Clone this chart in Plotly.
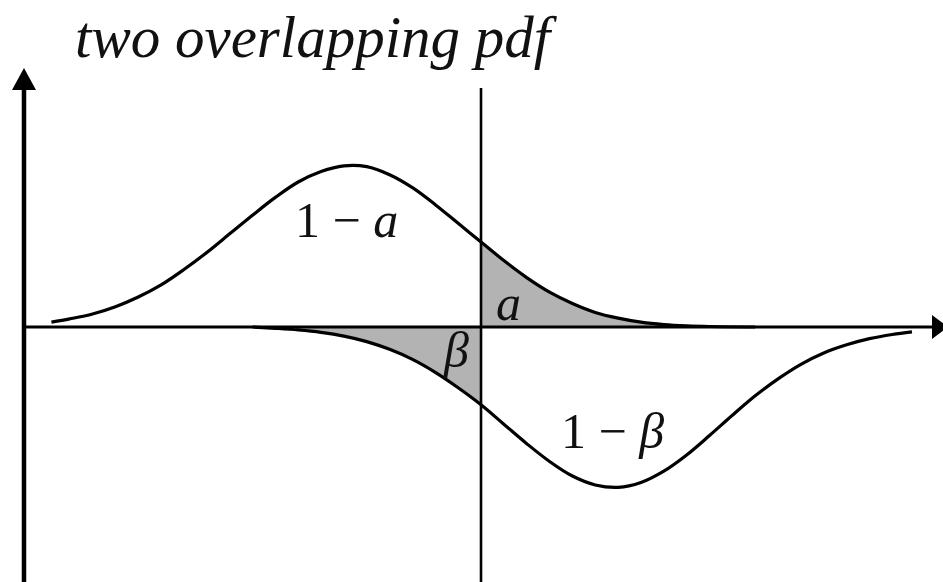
import plotly.graph_objects as go

# Decision threshold on the score axis
threshold = 10.0

# Upper density (H0), read at regular score steps
upper_x = [0.6, 1.0, 1.5, 2.0, 2.5, 3.0, 3.5, 4.0, 4.5, 5.0, 5.5, 6.0, 6.5, 7.0,
           7.5, 8.0, 8.5, 9.0, 9.5, 10.0, 10.5, 11.0, 11.5, 12.0, 12.5, 13.0,
           13.5, 14.0, 14.5, 15.0, 16.0]
upper_y = [0.03, 0.05, 0.08, 0.125, 0.185, 0.26, 0.355, 0.46, 0.575, 0.69, 0.80,
           0.895, 0.96, 0.995, 0.99, 0.94, 0.86, 0.755, 0.64, 0.525, 0.41, 0.305,
           0.215, 0.145, 0.09, 0.055, 0.03, 0.015, 0.007, 0.003, 0.0]

# Lower density (H1), drawn below the axis
lower_x = [5.0, 5.5, 6.0, 6.5, 7.0, 7.5, 8.0, 8.5, 9.0, 9.5, 10.0, 10.5, 11.0,
           11.5, 12.0, 12.5, 13.0, 13.5, 14.0, 14.5, 15.0, 15.5, 16.0, 16.5,
           17.0, 17.5, 18.0, 18.5, 19.0, 19.43]
lower_y = [0.0, -0.008, -0.018, -0.033, -0.056, -0.09, -0.138, -0.2, -0.28, -0.375,
           -0.48, -0.6, -0.72, -0.83, -0.92, -0.975, -0.99, -0.96, -0.89, -0.79,
           -0.67, -0.545, -0.425, -0.32, -0.23, -0.16, -0.11, -0.072, -0.046, -0.03]

title_text = "<i>two overlapping pdf</i>"
region_labels = ["1 − <i>a</i>", "<i>a</i>", "<i>β</i>", "1 − <i>β</i>"]
label_x = [7.05, 10.61, 9.45, 12.87]
label_y = [0.66, 0.15, -0.14, -0.64]

W, H = 943, 582
x_range = [-0.525, 20.109]
y_range = [-1.574, 2.0185]
px_x = W / (x_range[1] - x_range[0])
px_y = H / (y_range[1] - y_range[0])

fill_col = "#b3b3b3"
ink = "black"
serif = "Liberation Serif"

fig = go.Figure()

# shaded tails beyond / before the threshold
ux = [x for x in upper_x if x >= threshold]
uy = [y for x, y in zip(upper_x, upper_y) if x >= threshold]
lx = [x for x in lower_x if x <= threshold]
ly = [y for x, y in zip(lower_x, lower_y) if x <= threshold]
for xs, ys in ((ux, uy), (lx, ly)):
    fig.add_trace(go.Scatter(x=xs, y=ys, mode="lines", fill="tozeroy",
                             fillcolor=fill_col, line=dict(width=0, shape="spline"),
                             hoverinfo="skip", showlegend=False))

# the two density curves
for xs, ys in ((upper_x, upper_y), (lower_x, lower_y)):
    fig.add_trace(go.Scatter(x=xs, y=ys, mode="lines",
                             line=dict(color=ink, width=3.2, shape="spline"),
                             showlegend=False))

# axes with arrow heads
v_top = y_range[1] - 90 / px_y
v_tip = y_range[1] - 68 / px_y
h_end = x_range[0] + 932 / px_x
h_tip = x_range[0] + 948 / px_x
half_w = 12 / px_x
half_h = 12 / px_y

shapes = [
    dict(type="line", x0=0, x1=0, y0=y_range[0], y1=v_top,
         line=dict(color=ink, width=4.5)),
    dict(type="line", x0=0, x1=h_end, y0=0, y1=0,
         line=dict(color=ink, width=3)),
    dict(type="line", x0=threshold, x1=threshold, y0=y_range[0],
         y1=y_range[1] - 88 / px_y, line=dict(color=ink, width=2.6)),
    dict(type="path",
         path=f"M {-half_w} {v_top} L {half_w} {v_top} L 0 {v_tip} Z",
         fillcolor=ink, line=dict(width=0)),
    dict(type="path",
         path=f"M {h_end} {-half_h} L {h_end} {half_h} L {h_tip} 0 Z",
         fillcolor=ink, line=dict(width=0)),
]

annotations = [
    dict(text=title_text, xref="paper", yref="paper",
         x=316 / W, y=1 - 37 / H, xanchor="center", yanchor="middle",
         showarrow=False, font=dict(family=serif, size=59, color="#111")),
]
for t, x, y in zip(region_labels, label_x, label_y):
    annotations.append(dict(text=t, x=x, y=y, xanchor="center", yanchor="middle",
                            showarrow=False,
                            font=dict(family=serif, size=50, color="#111")))

fig.update_layout(
    width=W, height=H,
    margin=dict(l=0, r=0, t=0, b=0),
    paper_bgcolor="white", plot_bgcolor="white",
    xaxis=dict(range=x_range, visible=False, fixedrange=True),
    yaxis=dict(range=y_range, visible=False, fixedrange=True),
    shapes=shapes, annotations=annotations,
    showlegend=False,
)

fig.write_html("out.html")
